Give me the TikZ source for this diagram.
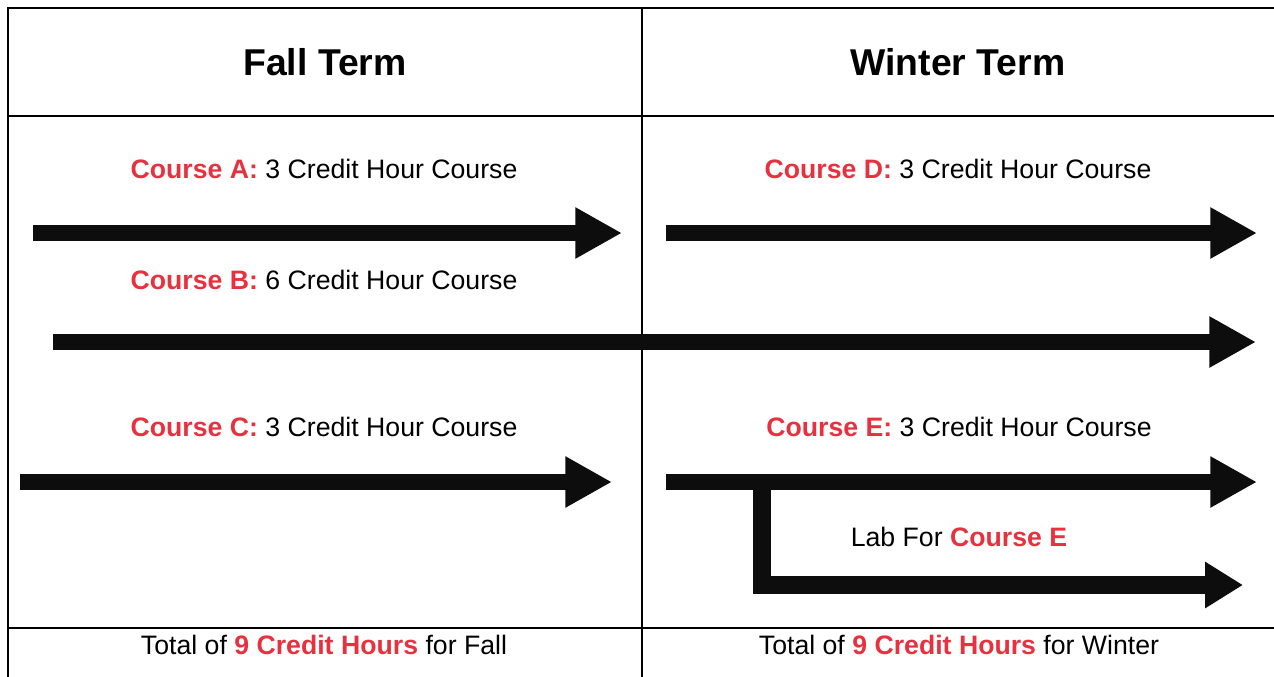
\documentclass[tikz,border=0pt]{standalone}
\usepackage{xcolor}
\usepackage{fontspec}
\setmainfont{Liberation Sans}
\usetikzlibrary{arrows.meta}

\definecolor{coursered}{RGB}{232,49,62}
\definecolor{arrowblack}{RGB}{13,13,13}
\newcommand{\crs}[1]{\textcolor{coursered}{\bfseries #1}}

\begin{document}
\begin{tikzpicture}
  [x=0.75pt,y=-0.75pt,
   every node/.style={inner sep=0pt,font=\fontsize{20pt}{24pt}\selectfont},
   title/.style={font=\fontsize{28pt}{32pt}\selectfont\bfseries},
   course/.style={draw=arrowblack,line width=11.5pt,
     -{Triangle[length=35pt,width=36pt,fill=arrowblack]}},
   lab/.style={draw=arrowblack,line width=13pt,line join=miter,
     -{Triangle[length=28.5pt,width=33pt,fill=arrowblack]}}]
  \useasboundingbox (0,0) rectangle (1274,676);

  % table
  \draw[line width=1.6pt] (8,680) -- (8,8) -- (1280,8);
  \draw[line width=1.2pt] (8,116) -- (1280,116);
  \draw[line width=1.2pt] (8,628) -- (1280,628);
  \draw[line width=1.2pt] (642,8) -- (642,680);

  % headings
  \node[title] (fall) at (325,62) {Fall Term};
  \node[title] (winter) at (958,62) {Winter Term};

  % course labels
  \node (la) at (324,169) {\crs{Course A:} 3 Credit Hour Course};
  \node (ld) at (958,169) {\crs{Course D:} 3 Credit Hour Course};
  \node (lb) at (324,280) {\crs{Course B:} 6 Credit Hour Course};
  \node (lc) at (324,427) {\crs{Course C:} 3 Credit Hour Course};
  \node (le) at (959,427) {\crs{Course E:} 3 Credit Hour Course};
  \node (lab) at (959,537) {Lab For \crs{Course E}};

  % totals
  \node (tfall) at (324,645) {Total of \crs{9 Credit Hours} for Fall};
  \node (twinter) at (959,645) {Total of \crs{9 Credit Hours} for Winter};

  % arrows
  \coordinate (a0) at (33,233);  \coordinate (a1) at (622,233);
  \coordinate (d0) at (666,233); \coordinate (d1) at (1257,233);
  \coordinate (b0) at (53,342);  \coordinate (b1) at (1256,342);
  \coordinate (c0) at (20,482);  \coordinate (c1) at (612,482);
  \coordinate (e0) at (666,482); \coordinate (e1) at (1257,482);
  \coordinate (l0) at (762,479); \coordinate (l1) at (1243,585);

  \foreach \from/\to in {a0/a1,d0/d1,b0/b1,c0/c1,e0/e1}
    \draw[course] (\from) -- (\to);
  \draw[lab] (l0) |- (l1);

\end{tikzpicture}
\end{document}
